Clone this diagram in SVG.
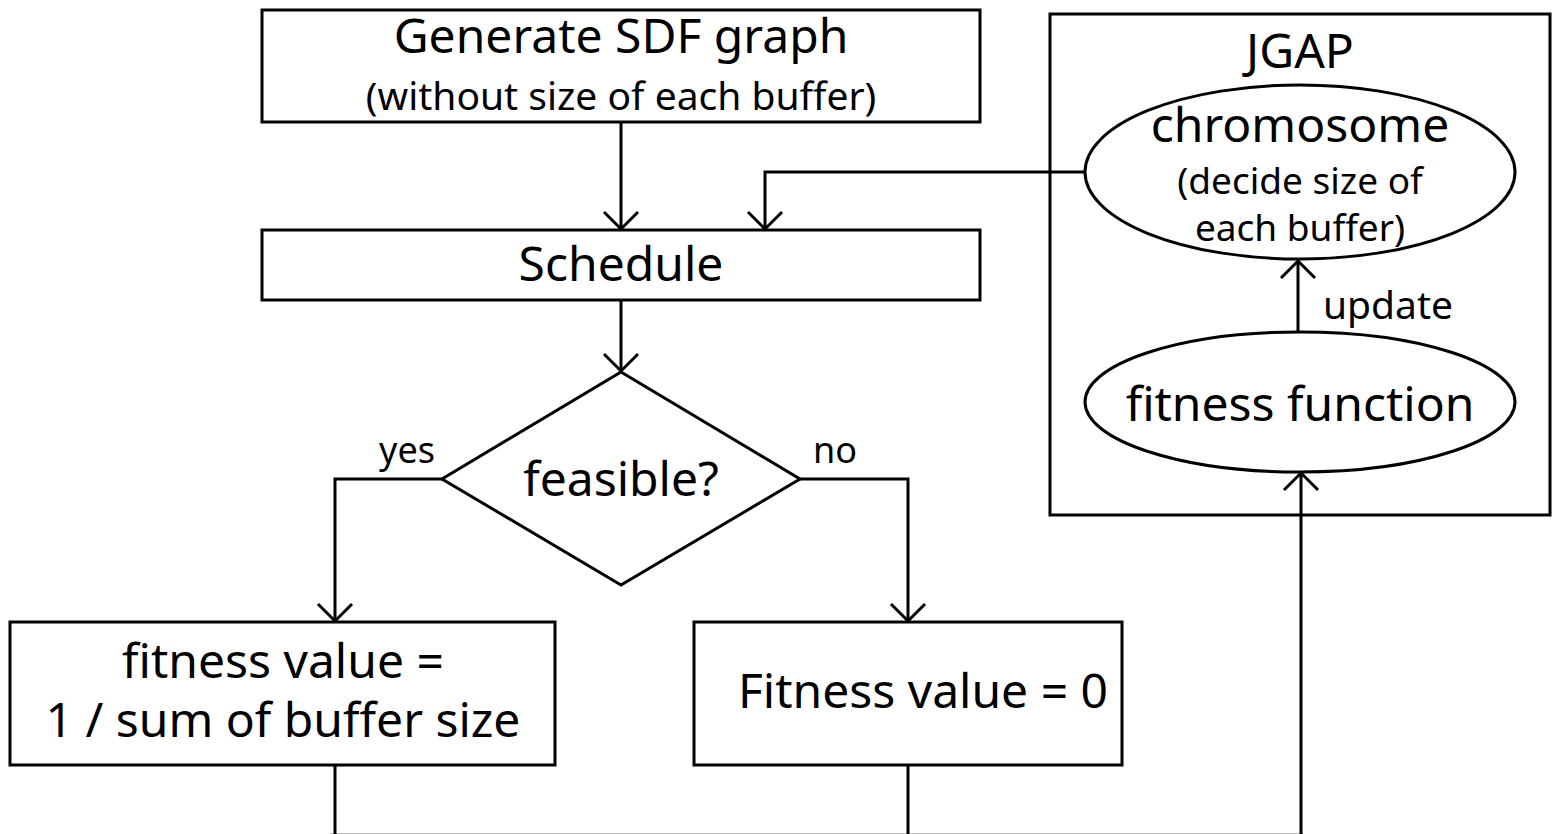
<svg xmlns="http://www.w3.org/2000/svg" width="1552" height="834" viewBox="0 0 1552 834">
<style>
.s{fill:#fff;stroke:#000;stroke-width:3}
.c{fill:none;stroke:#000;stroke-width:3}
text{font-family:"Noto Sans","Open Sans","DejaVu Sans",sans-serif;fill:#000;text-anchor:middle}
.l{font-size:48px}
.m{font-size:39px}
.e{font-size:37px}
.sm{font-size:36px}
</style>
<defs>
<marker id="a" markerUnits="userSpaceOnUse" markerWidth="40" markerHeight="40" viewBox="-20 -20 40 40" refX="0" refY="0" orient="auto">
<path d="M-17,-17 L0,0 L-17,17" fill="none" stroke="#000" stroke-width="3"/>
</marker>
</defs>
<rect width="1552" height="834" fill="#fff"/>
<g id="jgap">
<rect class="s" x="1050" y="14" width="500" height="501"/>
<text class="l" x="1300" y="68">JGAP</text>
</g>
<g id="connectors">
<path class="c" d="M621,122 V229" marker-end="url(#a)"/>
<path class="c" d="M621,300 V371" marker-end="url(#a)"/>
<path class="c" d="M442,479 H335 V621" marker-end="url(#a)"/>
<path class="c" d="M800,479 H908 V621" marker-end="url(#a)"/>
<path class="c" d="M1085,172 H765 V229" marker-end="url(#a)"/>
<path class="c" d="M1298,332 V261" marker-end="url(#a)"/>
<path class="c" d="M335,765 V836 M908,765 V836"/>
<path class="c" d="M1301,836 V473" marker-end="url(#a)"/>
<path class="c" d="M330,835.3 H1303"/>
<text class="sm" x="407" y="463">yes</text>
<text class="sm" x="835" y="463">no</text>
<text class="m" x="1388" y="319">update</text>
</g>
<g id="generate">
<rect class="s" x="262" y="10" width="718" height="112"/>
<text class="l" x="621" y="53">Generate SDF graph</text>
<text class="m" x="621" y="110">(without size of each buffer)</text>
</g>
<g id="schedule">
<rect class="s" x="262" y="230" width="718" height="70"/>
<text class="l" x="621" y="281">Schedule</text>
</g>
<g id="feasible">
<polygon class="s" points="621,372 800,479 621,585 442,479"/>
<text class="l" x="621" y="496">feasible?</text>
</g>
<g id="fitness-left">
<rect class="s" x="10" y="622" width="545" height="143"/>
<text class="l" x="283" y="678">fitness value =</text>
<text class="l" x="283" y="737">1 / sum of buffer size</text>
</g>
<g id="fitness-right">
<rect class="s" x="694" y="622" width="428" height="143"/>
<text class="l" x="923" y="708">Fitness value = 0</text>
</g>
<g id="chromosome">
<ellipse class="s" cx="1300" cy="172" rx="215" ry="87"/>
<text class="l" x="1300" y="142">chromosome</text>
<text class="e" x="1300" y="194">(decide size of</text>
<text class="e" x="1300" y="241">each buffer)</text>
</g>
<g id="fitness-function">
<ellipse class="s" cx="1300" cy="402" rx="215" ry="70"/>
<text class="l" x="1300" y="421">fitness function</text>
</g>
</svg>
